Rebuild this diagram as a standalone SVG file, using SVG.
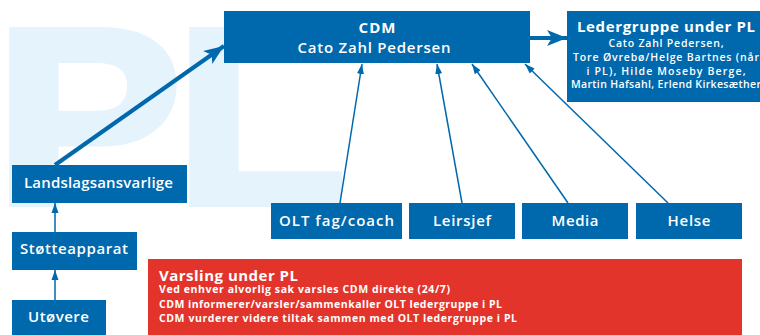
<svg xmlns="http://www.w3.org/2000/svg" width="760" height="335" viewBox="0 0 760 335">
  <style>
    .box { fill: #0068ac; }
    .alert { fill: #e3342b; }
    .mark { fill: #e5f3fc; stroke: #e5f3fc; stroke-width: 8; stroke-linejoin: miter; font-family: "Liberation Sans", Arial, sans-serif; font-weight: bold; font-size: 250px; }
    .t { fill: #ffffff; font-family: "Open Sans", "DejaVu Sans", sans-serif; font-weight: 600; text-anchor: middle; }
    .lt { fill: #ffffff; font-family: "Open Sans", "DejaVu Sans", sans-serif; font-weight: 700; }
    .lbl { font-size: 15px; }
    .hd { font-size: 15px; font-weight: 700; }
    .sm { font-size: 10.5px; }
    .thin { stroke: #0068ac; stroke-width: 1.5; fill: none; marker-end: url(#tip); }
    .thick { stroke: #0068ac; stroke-width: 4; fill: none; marker-end: url(#bigtip); }
  </style>
  <defs>
    <marker id="tip" markerUnits="userSpaceOnUse" markerWidth="10" markerHeight="10" viewBox="0 0 10 8" refX="10" refY="4" orient="auto">
      <path d="M0,0.5 L10,4 L0,7.5 Z" fill="#0068ac"/>
    </marker>
    <marker id="bigtip" markerUnits="userSpaceOnUse" markerWidth="20" markerHeight="16" viewBox="0 0 20 16" refX="20" refY="8" orient="auto">
      <path d="M0,0 L20,8 L0,16 L5,8 Z" fill="#0068ac"/>
    </marker>
  </defs>

  <!-- background lettering -->
  <g id="watermark">
    <text class="mark" transform="translate(-5,203) scale(1.12,1)">P</text>
    <text class="mark" transform="translate(175,203) scale(1.12,1)">L</text>
  </g>

  <!-- connectors -->
  <g id="connectors">
    <path class="thick" d="M55,165 L224,46"/>
    <path class="thick" d="M530,38 L567,38"/>
    <path class="thin" d="M55,232 L55,203"/>
    <path class="thin" d="M55,300 L55,270"/>
    <path class="thin" d="M340,203 L362,64"/>
    <path class="thin" d="M462,203 L437,64"/>
    <path class="thin" d="M568,203 L472,64"/>
    <path class="thin" d="M668,203 L525,64"/>
  </g>

  <g id="cdm">
    <rect class="box" x="224" y="11" width="306" height="52"/>
    <text class="t hd" x="377" y="33" textLength="37">CDM</text>
    <text class="t" x="374" y="53" font-size="15" textLength="153">Cato Zahl Pedersen</text>
  </g>

  <g id="ledergruppe">
    <rect class="box" x="567" y="11" width="200" height="91"/>
    <text class="t hd" x="666" y="32" textLength="178">Ledergruppe under PL</text>
    <text class="t sm" x="666" y="47" textLength="115">Cato Zahl Pedersen,</text>
    <text class="t sm" x="666" y="61" textLength="186">Tore Øvrebø/Helge Bartnes (når</text>
    <text class="t sm" x="666" y="75" textLength="159">i PL), Hilde Moseby Berge,</text>
    <text class="t sm" x="666" y="88" textLength="190">Martin Hafsahl, Erlend Kirkesæther</text>
  </g>

  <g id="landslagsansvarlige">
    <rect class="box" x="12" y="165" width="175" height="38"/>
    <text class="t lbl" x="98.5" y="188" textLength="149">Landslagsansvarlige</text>
  </g>

  <g id="stotteapparat">
    <rect class="box" x="12" y="232" width="125" height="38"/>
    <text class="t lbl" x="74" y="254" textLength="108">Støtteapparat</text>
  </g>

  <g id="utovere">
    <rect class="box" x="12" y="300" width="94" height="35"/>
    <text class="t lbl" x="58.5" y="322" textLength="61">Utøvere</text>
  </g>

  <g id="olt">
    <rect class="box" x="271" y="203" width="131" height="36"/>
    <text class="t lbl" x="336.5" y="226" textLength="115">OLT fag/coach</text>
  </g>

  <g id="leirsjef">
    <rect class="box" x="409" y="203" width="106" height="36"/>
    <text class="t lbl" x="462" y="226" textLength="58">Leirsjef</text>
  </g>

  <g id="media">
    <rect class="box" x="522" y="203" width="106" height="36"/>
    <text class="t lbl" x="575" y="226" textLength="47">Media</text>
  </g>

  <g id="helse">
    <rect class="box" x="636" y="203" width="106" height="36"/>
    <text class="t lbl" x="689" y="226" textLength="43">Helse</text>
  </g>

  <g id="varsling">
    <rect class="alert" x="148" y="259" width="594" height="76"/>
    <text class="lt" x="159" y="281" font-size="15" textLength="139">Varsling under PL</text>
    <text class="lt sm" x="159" y="293" textLength="291">Ved enhver alvorlig sak varsles CDM direkte (24/7)</text>
    <text class="lt sm" x="159" y="308" textLength="343">CDM informerer/varsler/sammenkaller OLT ledergruppe i PL</text>
    <text class="lt sm" x="159" y="322" textLength="358">CDM vurderer videre tiltak sammen med OLT ledergruppe i PL</text>
  </g>
</svg>
